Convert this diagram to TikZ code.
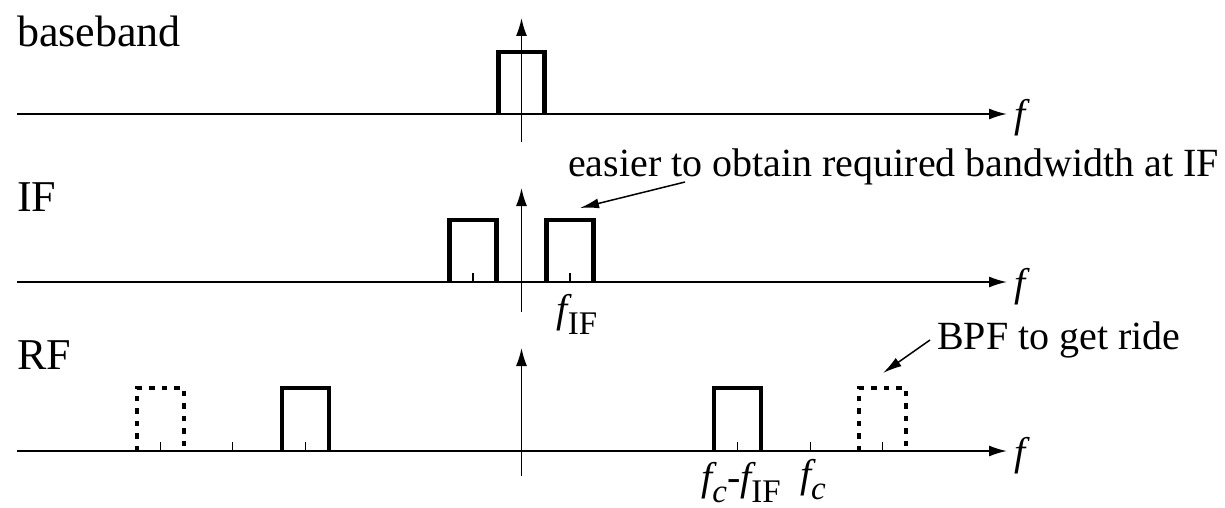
\documentclass[tikz,border=0pt]{standalone}
\usepackage{fontspec}
\setmainfont{Liberation Serif}
\usetikzlibrary{arrows.meta}

\newcommand{\lowidx}[1]{\raisebox{-0.3em}{\fontsize{33}{36}\selectfont #1}}

\begin{document}
\begin{tikzpicture}[x=1pt, y=-1pt, >={Latex[length=18pt,width=11pt]}]
        % Styles
        \tikzstyle{faxis}=[->, line width=1.8pt]
        \tikzstyle{vaxis}=[->, line width=1.6pt]
        \tikzstyle{band}=[line width=4.5pt, miter limit=10]
        \tikzstyle{imgband}=[band, dash pattern=on 5.5pt off 7pt]
        \tikzstyle{tickmark}=[line width=1.2pt]
        \tikzstyle{panel}=[font=\fontsize{44}{48}\selectfont, anchor=base west, inner sep=0pt]
        \tikzstyle{note}=[font=\fontsize{40}{44}\selectfont, anchor=base west, inner sep=0pt]
        \tikzstyle{freq}=[font=\fontsize{40}{44}\selectfont\itshape, inner sep=0pt]
        \tikzstyle{hint}=[->, line width=1.5pt, >={Latex[length=19pt,width=10pt]}]

        \useasboundingbox (0,0) rectangle (1225,508);

        % Baseband
        \node[panel] (bb) at (17,47) {baseband};
        \coordinate (bbL) at (17,114);
        \coordinate (bbR) at (1007,114);
        \coordinate (bbB) at (521.5,142);
        \coordinate (bbT) at (521.5,18);
        \draw[faxis] (bbL) -- (bbR);
        \draw[vaxis] (bbB) -- (bbT);
        \node[freq, anchor=base west] (bbf) at (1014,128) {f};
        \draw[band] (498.5,114) |- (544.5,52) -- (544.5,114);

        % IF
        \node[panel] (if) at (17,211) {IF};
        \coordinate (ifL) at (17,282);
        \coordinate (ifR) at (1007,282);
        \coordinate (ifB) at (521.5,312);
        \coordinate (ifT) at (521.5,188);
        \draw[faxis] (ifL) -- (ifR);
        \draw[vaxis] (ifB) -- (ifT);
        \node[freq, anchor=base west] (iff) at (1014,296) {f};
        \draw[band] (449.5,282) |- (496.5,220) -- (496.5,282);
        \draw[band] (546.5,282) |- (593.5,220) -- (593.5,282);
        \draw[tickmark] (473,282) -- (473,273);
        \draw[tickmark] (570,282) -- (570,273);
        \node[freq, anchor=base] (fif) at (577,322) {f\lowidx{\upshape IF}};

        \node[note] (easier) at (568,176) {easier to obtain required bandwidth at IF};
        \coordinate (easierTail) at (685,182);
        \coordinate (easierTip) at (580,208);
        \draw[hint] (easierTail) -- (easierTip);

        % RF
        \node[panel] (rf) at (17,369) {RF};
        \coordinate (rfL) at (17,451);
        \coordinate (rfR) at (1007,451);
        \coordinate (rfB) at (521.5,476);
        \coordinate (rfT) at (521.5,348);
        \draw[faxis] (rfL) -- (rfR);
        \draw[vaxis] (rfB) -- (rfT);
        \node[freq, anchor=base west] (rff) at (1014,465) {f};
        \draw[imgband] (137,451) |- (184,388) -- (184,451);
        \draw[band] (282,451) |- (329,388) -- (329,451);
        \draw[band] (714,451) |- (761,388) -- (761,451);
        \draw[imgband] (859,451) |- (906,388) -- (906,451);
        \foreach \x in {160.5, 232.5, 305.5, 737.5, 810.5, 882.5}
            \draw[tickmark] (\x,451) -- (\x,442);
        \node[freq, anchor=base] (fcif) at (741,490) {f\lowidx{c}-f\lowidx{\upshape IF}};
        \node[freq, anchor=base] (fc) at (813,487) {f\lowidx{c}};

        \node[note] (bpf) at (937,349) {BPF to get ride};
        \coordinate (bpfTail) at (930,340);
        \coordinate (bpfTip) at (883,373);
        \draw[hint] (bpfTail) -- (bpfTip);
    \end{tikzpicture}
\end{document}
